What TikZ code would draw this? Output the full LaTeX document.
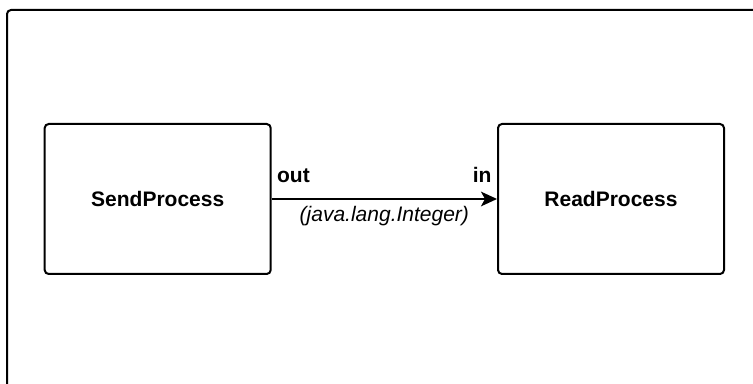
\documentclass[tikz,border=0pt]{standalone}
\usepackage{fontspec}
\setmainfont{Liberation Sans}
\usetikzlibrary{arrows.meta}

\begin{document}
\begin{tikzpicture}[x=0.75pt, y=-0.75pt,
    frame/.style={draw, line width=1.5pt, rounded corners=3pt},
    procbox/.style={draw, line width=1.5pt, rounded corners=3pt, minimum width=169.5pt, minimum height=112.5pt, font=\fontsize{15.75}{19}\selectfont\bfseries},
    portlabel/.style={font=\fontsize{15.75}{19}\selectfont\bfseries},
    typelabel/.style={font=\fontsize{15.75}{19}\selectfont\itshape},
    flow/.style={line width=1.5pt, -{Stealth[length=12pt, width=11pt, inset=3pt]}}]
  \useasboundingbox (0, 0) rectangle (753, 384);
  \clip (0, 0) rectangle (753, 384);
  \draw[frame] (7, 10) rectangle (790, 400);
  \node[procbox] (send) at (157.7, 199) {SendProcess};
  \node[procbox] (read) at (611, 199) {ReadProcess};
  \draw[flow] (send.east) -- (read.west) node[pos=0, anchor=base west, yshift=12pt, portlabel] {out} node[pos=1, anchor=base east, yshift=12pt, portlabel] {in} node[midway, anchor=base, yshift=-17pt, typelabel] {(java.lang.Integer)};
\end{tikzpicture}
\end{document}
